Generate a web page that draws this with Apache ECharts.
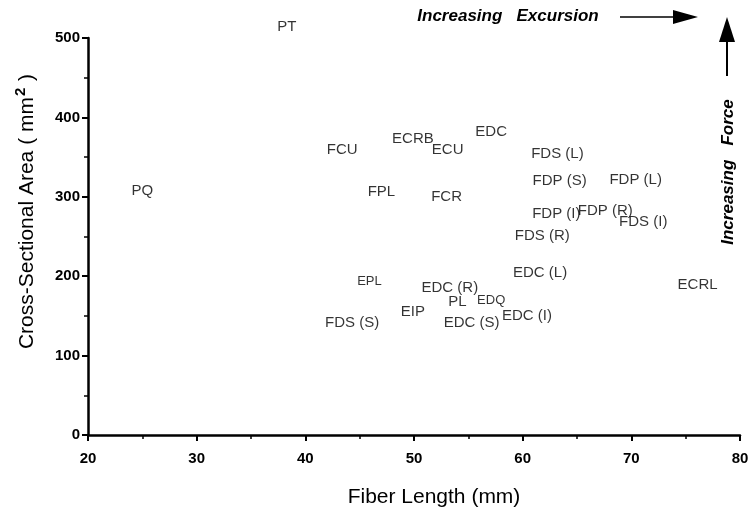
<!DOCTYPE html>
<html>
<head>
<meta charset="utf-8">
<script src="https://cdn.jsdelivr.net/npm/echarts@6/dist/echarts.min.js"></script>
<style>
  html, body { margin: 0; padding: 0; background: #fff; }
  #chart { width: 752px; height: 517px; }
</style>
</head>
<body>
<div id="chart"></div>
<script type="text/javascript">
	// muscle names, fiber length (mm), cross-sectional area (mm2)
	var muscles = [ 'PT', 'PQ', 'FCU', 'ECRB', 'ECU', 'EDC', 'FDS (L)', 'FPL', 'FCR',
			'FDP (S)', 'FDP (L)', 'FDP (I)', 'FDP (R)', 'FDS (I)', 'FDS (R)', 'EDC (L)',
			'ECRL', 'EPL', 'EDC (R)', 'PL', 'EDQ', 'EIP', 'FDS (S)', 'EDC (S)', 'EDC (I)' ];
	var fiberLength = [ 38.3, 25.0, 43.4, 49.9, 53.1, 57.1, 63.2, 47.0, 53.0,
			63.4, 70.4, 63.1, 67.6, 71.1, 61.8, 61.6,
			76.1, 45.9, 53.3, 54.0, 57.1, 49.9, 44.3, 55.3, 60.4 ];
	var crossArea = [ 514, 307, 359, 373, 359, 382, 354, 306, 300,
			320, 321, 278, 282, 268, 251, 204,
			189, 193, 185, 168, 169, 155, 141, 141, 150 ];
	var xTicks = [ 20, 80, 10 ];   // min, max, step
	var yTicks = [ 0, 500, 100 ];

	var smallLabels = [ 'EPL', 'EDQ' ];
	var font = 'Liberation Sans, Arial, sans-serif';

	var chart = echarts.init(document.getElementById('chart'));

	var points = [];
	for (var i = 0; i < muscles.length; i++) {
		var item = {
			name : muscles[i],
			value : [ fiberLength[i], crossArea[i] ]
		};
		if (smallLabels.indexOf(muscles[i]) >= 0) {
			item.label = { fontSize : 13 };
		}
		points.push(item);
	}

	var axisCommon = {
		axisLine : { show : true, onZero : false, lineStyle : { color : '#000', width : 2.5 } },
		axisTick : { show : true, inside : false, length : 6, lineStyle : { color : '#000', width : 2 } },
		minorTick : { show : true, splitNumber : 2, length : 4, lineStyle : { color : '#000', width : 1.5 } },
		splitLine : { show : false },
		axisLabel : { color : '#000', fontFamily : font, fontWeight : 'bold', fontSize : 15 },
		nameTextStyle : { color : '#000', fontFamily : font, fontSize : 21 }
	};

	var option = {
		backgroundColor : '#fff',
		animation : false,
		grid : { left : 88, right : 12, top : 38, bottom : 82 },
		xAxis : echarts.util.merge({
			type : 'value',
			min : xTicks[0],
			max : xTicks[1],
			interval : xTicks[2],
			name : 'Fiber Length (mm)',
			nameLocation : 'middle',
			nameGap : 52,
			nameTextStyle : { padding : [ 0, 0, 0, 40 ] },
			axisLabel : { margin : 16 }
		}, axisCommon),
		yAxis : echarts.util.merge({
			type : 'value',
			min : yTicks[0],
			max : yTicks[1],
			interval : yTicks[2],
			name : 'Cross-Sectional Area ( mm{sup|2} )',
			nameLocation : 'middle',
			nameGap : 46,
			nameRotate : 90,
			nameTextStyle : {
				padding : [ 0, 0, 0, 50 ],
				rich : {
					sup : { fontSize : 15, fontWeight : 'bold', fontFamily : font, color : '#000', padding : [ 0, 1, 14, 1 ] }
				}
			},
			axisLabel : { margin : 8 }
		}, axisCommon),
		series : [ {
			type : 'scatter',
			symbolSize : 0,
			clip : false,
			data : points,
			label : {
				show : true,
				position : 'inside',
				formatter : '{b}',
				color : '#000',
				textBorderWidth : 0,
				fontFamily : font,
				fontSize : 15
			},
			emphasis : { disabled : true }
		} ],
		graphic : [ {
			type : 'text',
			x : 508, y : 16,
			style : {
				text : 'Increasing   Excursion',
				font : 'italic bold 17px ' + font,
				fill : '#000',
				align : 'center',
				verticalAlign : 'middle'
			}
		}, {
			type : 'line',
			shape : { x1 : 620, y1 : 17, x2 : 676, y2 : 17 },
			style : { stroke : '#000', lineWidth : 1.5 }
		}, {
			type : 'polygon',
			shape : { points : [ [ 673, 10 ], [ 698, 17 ], [ 673, 24 ] ] },
			style : { fill : '#000' }
		}, {
			type : 'line',
			shape : { x1 : 727, y1 : 40, x2 : 727, y2 : 76 },
			style : { stroke : '#000', lineWidth : 2 }
		}, {
			type : 'polygon',
			shape : { points : [ [ 719, 42 ], [ 727, 17 ], [ 735, 42 ] ] },
			style : { fill : '#000' }
		}, {
			type : 'text',
			x : 728, y : 172,
			rotation : Math.PI / 2,
			style : {
				text : 'Increasing   Force',
				font : 'italic bold 17px ' + font,
				fill : '#000',
				align : 'center',
				verticalAlign : 'middle'
			}
		} ]
	};

	chart.setOption(option);
</script>
</body>
</html>
